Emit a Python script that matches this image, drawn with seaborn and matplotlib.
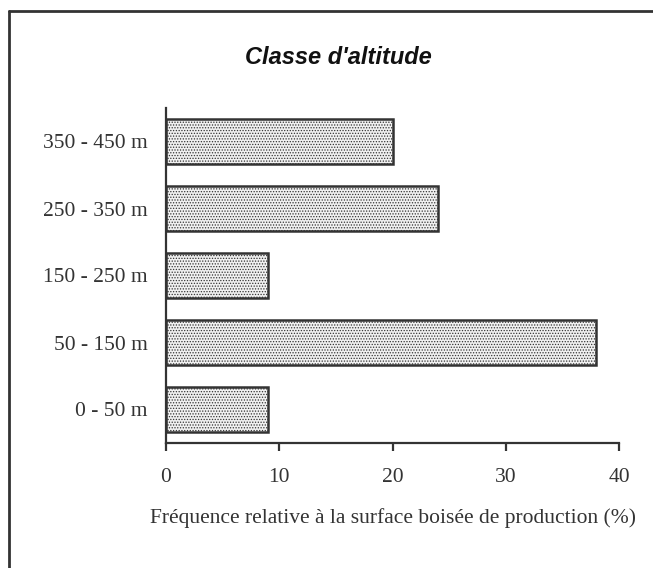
import matplotlib
matplotlib.use("Agg")
import matplotlib.pyplot as plt
import seaborn as sns
import pandas as pd
from matplotlib.lines import Line2D

# altitude classes (top to bottom) and relative frequency (%)
classes = ["350 - 450 m", "250 - 350 m", "150 - 250 m", "50 - 150 m", "0 - 50 m"]
freq = [20, 24, 9, 38, 9]
xticks = [0, 10, 20, 30, 40]

df = pd.DataFrame({"classe": classes, "freq": freq})

sns.set_style("white")
plt.rcParams["hatch.color"] = "#8f8f8f"
plt.rcParams["hatch.linewidth"] = 0.6

fig = plt.figure(figsize=(6.53, 5.68), dpi=100)
ax = fig.add_axes([166 / 653, 1 - 443 / 568, (619 - 166) / 653, (443 - 108) / 568])

sns.barplot(data=df, x="freq", y="classe", order=classes, orient="h",
            color="#f0f0f0", edgecolor="#333333", linewidth=1.8,
            width=0.67, ax=ax, saturation=1)
for p in ax.patches:
    p.set_hatch("......")

ax.set_xlim(0, 40)
ax.set_ylim(4.5, -0.5)
ax.set_xticks(xticks)
ax.set_xlabel("Fréquence relative à la surface boisée de production (%)",
              fontsize=15.5, family="Liberation Serif", color="#333333", labelpad=15)
ax.set_ylabel("")
for lab in ax.get_xticklabels() + ax.get_yticklabels():
    lab.set_family("Liberation Serif")
    lab.set_fontsize(15.5)
    lab.set_color("#333333")

sns.despine(ax=ax)
for s in ["left", "bottom"]:
    ax.spines[s].set_color("#333333")
    ax.spines[s].set_linewidth(1.6)
ax.tick_params(axis="x", direction="out", length=6, width=1.6, color="#333333", pad=12, bottom=True)
ax.tick_params(axis="y", length=0, pad=13)

fig.text(338 / 653, 1 - 57 / 568, "Classe d'altitude", ha="center", va="center",
         fontsize=17, fontweight="bold", fontstyle="italic",
         family="Liberation Sans", color="#111111")

# frame around the chart (clipped at right and bottom)
fig.add_artist(Line2D([9 / 653, 1.0], [1 - 11 / 568, 1 - 11 / 568], transform=fig.transFigure,
                      color="#333333", linewidth=2))
fig.add_artist(Line2D([9 / 653, 9 / 653], [1 - 11 / 568, 0.0], transform=fig.transFigure,
                      color="#333333", linewidth=2))

fig.savefig("out.png", dpi=100)
